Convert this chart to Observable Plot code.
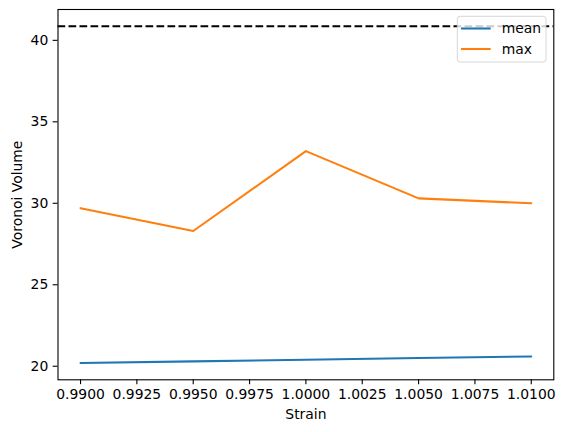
<!DOCTYPE html>
<html>
<head>
<meta charset="utf-8">
<script src="https://cdn.jsdelivr.net/npm/d3@7"></script>
<script src="https://cdn.jsdelivr.net/npm/@observablehq/plot@0.6"></script>
<style>
  html, body { margin: 0; padding: 0; background: white; }
</style>
</head>
<body>
<div id="chart"></div>
<script>
const strain = [0.99, 0.995, 1.0, 1.005, 1.01];
const meanVolume = [20.2, 20.3, 20.4, 20.5, 20.6];
const maxVolume = [29.7, 28.3, 33.2, 30.3, 30.0];
const refVolume = 40.86;
const seriesNames = ["mean", "max"];
const seriesColors = ["#1f77b4", "#ff7f0e"];
const xTicks = [0.99, 0.9925, 0.995, 0.9975, 1.0, 1.0025, 1.005, 1.0075, 1.01];
const yTicks = [20, 25, 30, 35, 40];

const rows = [
  ...strain.map((s, i) => ({strain: s, value: meanVolume[i], series: "mean"})),
  ...strain.map((s, i) => ({strain: s, value: maxVolume[i], series: "max"}))
];

// matplotlib-like 5% margins
const xMin = d3.min(strain), xMax = d3.max(strain);
const xPad = (xMax - xMin) * 0.05;
const allY = [...meanVolume, ...maxVolume, refVolume];
const yMin = d3.min(allY), yMax = d3.max(allY);
const yPad = (yMax - yMin) * 0.05;

const FS = 13.9;
const W = 564, H = 432;
const mL = 57.5, mR = 10.7, mT = 9, mB = 52.7;

const chart = Plot.plot({
  width: W,
  height: H,
  marginLeft: mL,
  marginRight: mR,
  marginTop: mT,
  marginBottom: mB,
  style: {fontFamily: "DejaVu Sans", fontSize: FS + "px", background: "white", color: "black"},
  x: {domain: [xMin - xPad, xMax + xPad]},
  y: {domain: [yMin - yPad, yMax + yPad]},
  color: {domain: seriesNames, range: seriesColors},
  marks: [
    Plot.axisX({ticks: xTicks, tickFormat: d => d.toFixed(4), tickSize: 4.86, tickPadding: 4.86, label: null, fontSize: FS, strokeWidth: 1.1}),
    Plot.axisY({ticks: yTicks, tickFormat: d => String(d), tickSize: 4.86, tickPadding: 4.86, label: null, fontSize: FS, strokeWidth: 1.1}),
    Plot.line(rows, {x: "strain", y: "value", z: "series", stroke: "series", strokeWidth: 2.08}),
    Plot.ruleY([refVolume], {stroke: "black", strokeWidth: 2.08, strokeDasharray: "7.7,3.3"}),
    Plot.frame({stroke: "black", strokeWidth: 1.1}),
    Plot.text(["Strain"], {text: d => d, frameAnchor: "bottom", dy: 35.2, textAnchor: "middle", lineAnchor: "middle", fontSize: FS, fill: "black"}),
    Plot.text(["Voronoi Volume"], {text: d => d, frameAnchor: "left", dx: -40.5, rotate: -90, textAnchor: "middle", lineAnchor: "middle", fontSize: FS, fill: "black"})
  ]
});

document.getElementById("chart").appendChild(chart);

// legend (matplotlib-style, upper right)
const svg = d3.select(chart);
const lg = svg.append("g").attr("font-family", "DejaVu Sans").attr("font-size", FS);
lg.append("rect")
  .attr("x", 457.3).attr("y", 16.3).attr("width", 88.7).attr("height", 45.7)
  .attr("rx", 2.8).attr("ry", 2.8)
  .attr("fill", "white").attr("fill-opacity", 0.8)
  .attr("stroke", "#cccccc").attr("stroke-opacity", 0.8).attr("stroke-width", 1);
const legendY = [28.5, 49];
seriesNames.forEach((name, i) => {
  lg.append("line")
    .attr("x1", 461).attr("x2", 490.7)
    .attr("y1", legendY[i]).attr("y2", legendY[i])
    .attr("stroke", seriesColors[i]).attr("stroke-width", 2.08);
  lg.append("text")
    .attr("x", 501.7).attr("y", legendY[i])
    .attr("dy", "0.35em")
    .attr("text-anchor", "start")
    .attr("fill", "black")
    .text(name);
});
</script>
</body>
</html>
